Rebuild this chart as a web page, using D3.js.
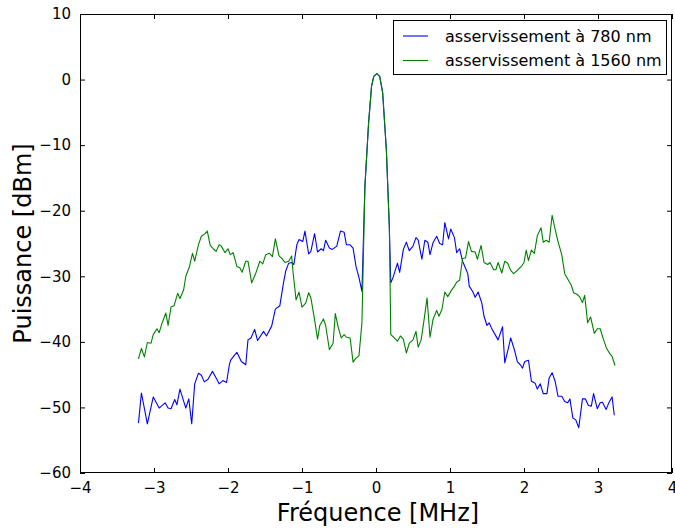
<!DOCTYPE html>
<html>
<head>
<meta charset="utf-8">
<script src="https://cdn.jsdelivr.net/npm/d3@7"></script>
<style>
  html, body { margin: 0; padding: 0; background: #fff; }
  svg text { font-family: "DejaVu Sans", sans-serif; }
</style>
</head>
<body>
<svg id="chart" width="675" height="528"></svg>
<script>
// ---- Data ----
const seriesNames = ["asservissement à 780 nm", "asservissement à 1560 nm"];
const seriesColors = ["#0000ff", "#008000"];

const xTicks = [-4, -3, -2, -1, 0, 1, 2, 3, 4];
const yTicks = [10, 0, -10, -20, -30, -40, -50, -60];

const blueX = [-3.21,-3.17,-3.09,-3.01,-2.93,-2.85,-2.81,-2.77,-2.72,-2.69,-2.65,-2.57,-2.53,-2.49,-2.45,-2.40,-2.36,-2.32,-2.27,-2.21,-2.16,-2.12,-2.07,-2.02,-1.98,-1.96,-1.88,-1.82,-1.76,-1.73,-1.69,-1.64,-1.60,-1.52,-1.48,-1.41,-1.36,-1.30,-1.25,-1.22,-1.18,-1.14,-1.11,-1.07,-1.04,-0.99,-0.96,-0.91,-0.88,-0.83,-0.79,-0.74,-0.71,-0.68,-0.63,-0.59,-0.53,-0.48,-0.43,-0.40,-0.35,-0.31,-0.27,-0.23,-0.19,-0.15,-0.10,-0.06,-0.03,0.01,0.05,0.09,0.14,0.18,0.20,0.23,0.29,0.32,0.37,0.41,0.45,0.50,0.54,0.57,0.62,0.66,0.70,0.73,0.77,0.82,0.86,0.90,0.93,0.98,1.01,1.06,1.09,1.13,1.17,1.20,1.24,1.26,1.31,1.34,1.38,1.43,1.46,1.50,1.53,1.56,1.61,1.65,1.71,1.74,1.79,1.82,1.87,1.91,1.95,1.98,2.01,2.06,2.10,2.15,2.18,2.22,2.26,2.31,2.34,2.38,2.42,2.46,2.51,2.55,2.59,2.62,2.66,2.70,2.74,2.79,2.83,2.87,2.91,2.94,2.99,3.03,3.06,3.11,3.15,3.19,3.22];
const blueY = [-52.4,-47.8,-52.5,-48.4,-50.1,-49.3,-50.1,-50.2,-48.8,-49.6,-47.2,-50.1,-48.7,-52.5,-46.4,-44.8,-45.1,-46.1,-45.7,-44.5,-45.5,-46.4,-45.9,-46.2,-43.4,-42.7,-41.6,-43.0,-43.5,-39.7,-39.4,-38.1,-39.8,-38.4,-39.1,-37.6,-35.0,-34.5,-31.0,-29.2,-28.0,-27.9,-28.2,-25.2,-24.4,-24.7,-23.1,-26.6,-26.2,-23.5,-26.3,-25.8,-26.1,-24.5,-25.7,-25.9,-25.4,-23.1,-23.3,-25.2,-25.2,-25.7,-28.5,-30.2,-32.3,-16.3,-6.6,-1.0,0.5,0.9,0.5,-2.0,-10.7,-22.4,-31.0,-30.2,-28.0,-29.4,-25.9,-24.8,-26.1,-25.4,-24.1,-24.5,-27.4,-24.5,-24.8,-26.7,-24.9,-23.9,-25.0,-25.2,-21.8,-24.3,-22.8,-24.1,-26.4,-25.8,-27.7,-28.5,-29.6,-31.5,-32.4,-33.2,-32.4,-34.1,-36.1,-37.5,-37.1,-37.9,-38.9,-39.7,-37.7,-43.2,-40.9,-39.4,-41.2,-43.0,-43.5,-44.0,-43.0,-42.8,-46.0,-46.3,-47.2,-46.4,-47.9,-47.9,-45.5,-44.7,-46.0,-48.3,-48.3,-49.1,-49.3,-48.7,-51.6,-51.9,-53.1,-48.7,-48.7,-49.7,-49.8,-47.9,-50.2,-49.3,-49.2,-50.3,-49.2,-48.4,-51.2];

const greenX = [-3.21,-3.17,-3.13,-3.09,-3.04,-3.01,-2.96,-2.93,-2.89,-2.84,-2.81,-2.77,-2.73,-2.68,-2.65,-2.60,-2.57,-2.52,-2.48,-2.45,-2.40,-2.36,-2.31,-2.28,-2.24,-2.20,-2.16,-2.12,-2.09,-2.04,-2.00,-1.97,-1.93,-1.88,-1.84,-1.81,-1.76,-1.73,-1.68,-1.63,-1.57,-1.53,-1.49,-1.44,-1.40,-1.36,-1.31,-1.27,-1.23,-1.18,-1.14,-1.12,-1.08,-1.04,-1.00,-0.95,-0.91,-0.88,-0.83,-0.79,-0.76,-0.71,-0.68,-0.63,-0.58,-0.55,-0.51,-0.47,-0.43,-0.40,-0.35,-0.31,-0.28,-0.23,-0.19,-0.15,-0.10,-0.06,-0.03,0.01,0.05,0.09,0.14,0.18,0.20,0.24,0.29,0.33,0.37,0.41,0.45,0.50,0.54,0.57,0.61,0.65,0.69,0.73,0.77,0.82,0.85,0.89,0.93,0.97,1.01,1.06,1.09,1.13,1.17,1.21,1.25,1.29,1.34,1.37,1.42,1.46,1.51,1.54,1.59,1.62,1.65,1.70,1.74,1.78,1.82,1.86,1.91,1.97,2.00,2.03,2.06,2.10,2.14,2.18,2.23,2.26,2.30,2.34,2.38,2.42,2.46,2.51,2.55,2.60,2.64,2.67,2.71,2.75,2.79,2.82,2.86,2.90,2.95,2.99,3.03,3.07,3.12,3.16,3.19,3.23];
const greenY = [-42.6,-41.0,-42.3,-40.1,-40.2,-38.9,-38.0,-38.6,-37.1,-35.6,-37.5,-34.7,-34.5,-32.6,-33.4,-32.1,-30.0,-28.5,-26.5,-27.7,-25.2,-23.9,-23.5,-23.1,-25.3,-25.8,-26.2,-25.2,-25.4,-26.4,-25.8,-26.7,-26.4,-28.5,-28.7,-29.4,-27.7,-27.7,-31.0,-29.7,-27.7,-28.1,-26.7,-26.5,-27.0,-24.3,-26.9,-27.3,-27.9,-27.7,-26.9,-29.5,-33.6,-32.4,-34.7,-34.1,-32.5,-33.3,-36.6,-39.6,-37.5,-36.5,-37.5,-41.2,-40.2,-35.7,-37.8,-39.4,-38.9,-39.3,-39.4,-43.1,-42.6,-42.1,-37.1,-16.3,-6.6,-1.0,0.5,0.9,0.5,-2.0,-10.7,-22.4,-38.9,-39.3,-39.9,-39.1,-39.6,-41.7,-40.2,-39.7,-38.4,-40.8,-39.7,-36.6,-33.3,-39.3,-36.6,-35.2,-36.1,-35.1,-32.4,-33.1,-32.3,-31.5,-30.9,-30.6,-27.3,-27.2,-24.7,-26.2,-26.3,-27.4,-25.3,-27.9,-28.2,-27.9,-29.0,-29.0,-27.9,-29.5,-27.7,-28.0,-29.1,-29.6,-29.1,-28.4,-27.9,-26.0,-27.6,-26.0,-26.5,-23.8,-22.6,-24.8,-24.5,-24.8,-20.7,-22.8,-24.7,-26.7,-29.6,-30.6,-31.4,-32.5,-32.7,-33.1,-34.0,-32.9,-37.1,-36.2,-38.7,-38.0,-38.0,-39.5,-41.1,-41.8,-42.2,-43.6];

const xLabel = "Fréquence [MHz]";
const yLabel = "Puissance [dBm]";

// ---- Layout ----
const svg = d3.select("#chart");
const L = 80, R = 672, T = 14, B = 473;

const x = d3.scaleLinear().domain([-4, 4]).range([L, R]);
const y = d3.scaleLinear().domain([-60, 10]).range([B, T]);

const fmt = d => (d < 0 ? "\u2212" + Math.abs(d) : String(d));

// Lines
const series = [
  { xs: blueX, ys: blueY },
  { xs: greenX, ys: greenY }
];
const line = d3.line().x(d => x(d[0])).y(d => y(d[1]));
series.forEach((s, i) => {
  const pts = s.xs.map((v, j) => [v, s.ys[j]]);
  svg.append("path")
    .datum(pts)
    .attr("d", line)
    .attr("fill", "none")
    .attr("stroke", seriesColors[i])
    .attr("stroke-width", 1.1)
    .attr("stroke-linejoin", "round");
});

// Axes (ticks inward, on all sides)
const tickLen = 5;
const gx = svg.append("g").attr("transform", `translate(0,${B})`)
  .call(d3.axisBottom(x).tickValues(xTicks).tickFormat(fmt).tickSizeInner(-tickLen).tickSizeOuter(0).tickPadding(9));
const gxTop = svg.append("g").attr("transform", `translate(0,${T})`)
  .call(d3.axisTop(x).tickValues(xTicks).tickFormat("").tickSizeInner(-tickLen).tickSizeOuter(0));
const gy = svg.append("g").attr("transform", `translate(${L},0)`)
  .call(d3.axisLeft(y).tickValues(yTicks).tickFormat(fmt).tickSizeInner(-tickLen).tickSizeOuter(0).tickPadding(9));
const gyRight = svg.append("g").attr("transform", `translate(${R},0)`)
  .call(d3.axisRight(y).tickValues(yTicks).tickFormat("").tickSizeInner(-tickLen).tickSizeOuter(0));

[gx, gxTop, gy, gyRight].forEach(g => {
  g.select(".domain").remove();
  g.selectAll("line").attr("stroke", "#000").attr("stroke-width", 1);
  g.selectAll("text").attr("font-size", 15).attr("fill", "#000")
    .style("font-family", "'DejaVu Sans', sans-serif");
});

// Frame
svg.append("rect")
  .attr("x", L + 0.5).attr("y", T + 0.5)
  .attr("width", R - L - 1).attr("height", B - T - 1)
  .attr("fill", "none").attr("stroke", "#000").attr("stroke-width", 1);

// Axis labels
svg.append("text")
  .attr("x", (L + R) / 2 + 2).attr("y", 521)
  .attr("text-anchor", "middle")
  .attr("font-size", 24)
  .text(xLabel);
svg.append("text")
  .attr("transform", `translate(31,${(T + B) / 2}) rotate(-90)`)
  .attr("text-anchor", "middle")
  .attr("font-size", 24)
  .text(yLabel);

// Legend
const lg = svg.append("g");
lg.append("rect")
  .attr("x", 393.5).attr("y", 20.5)
  .attr("width", 273).attr("height", 54)
  .attr("fill", "#fff").attr("stroke", "#000").attr("stroke-width", 1);
seriesNames.forEach((name, i) => {
  const yy = 36 + i * 24.5;
  lg.append("line")
    .attr("x1", 403).attr("x2", 428)
    .attr("y1", yy).attr("y2", yy)
    .attr("stroke", seriesColors[i]).attr("stroke-width", 1.1);
  lg.append("text")
    .attr("x", 445).attr("y", yy + 5.5)
    .attr("font-size", 16)
    .text(name);
});
</script>
</body>
</html>
